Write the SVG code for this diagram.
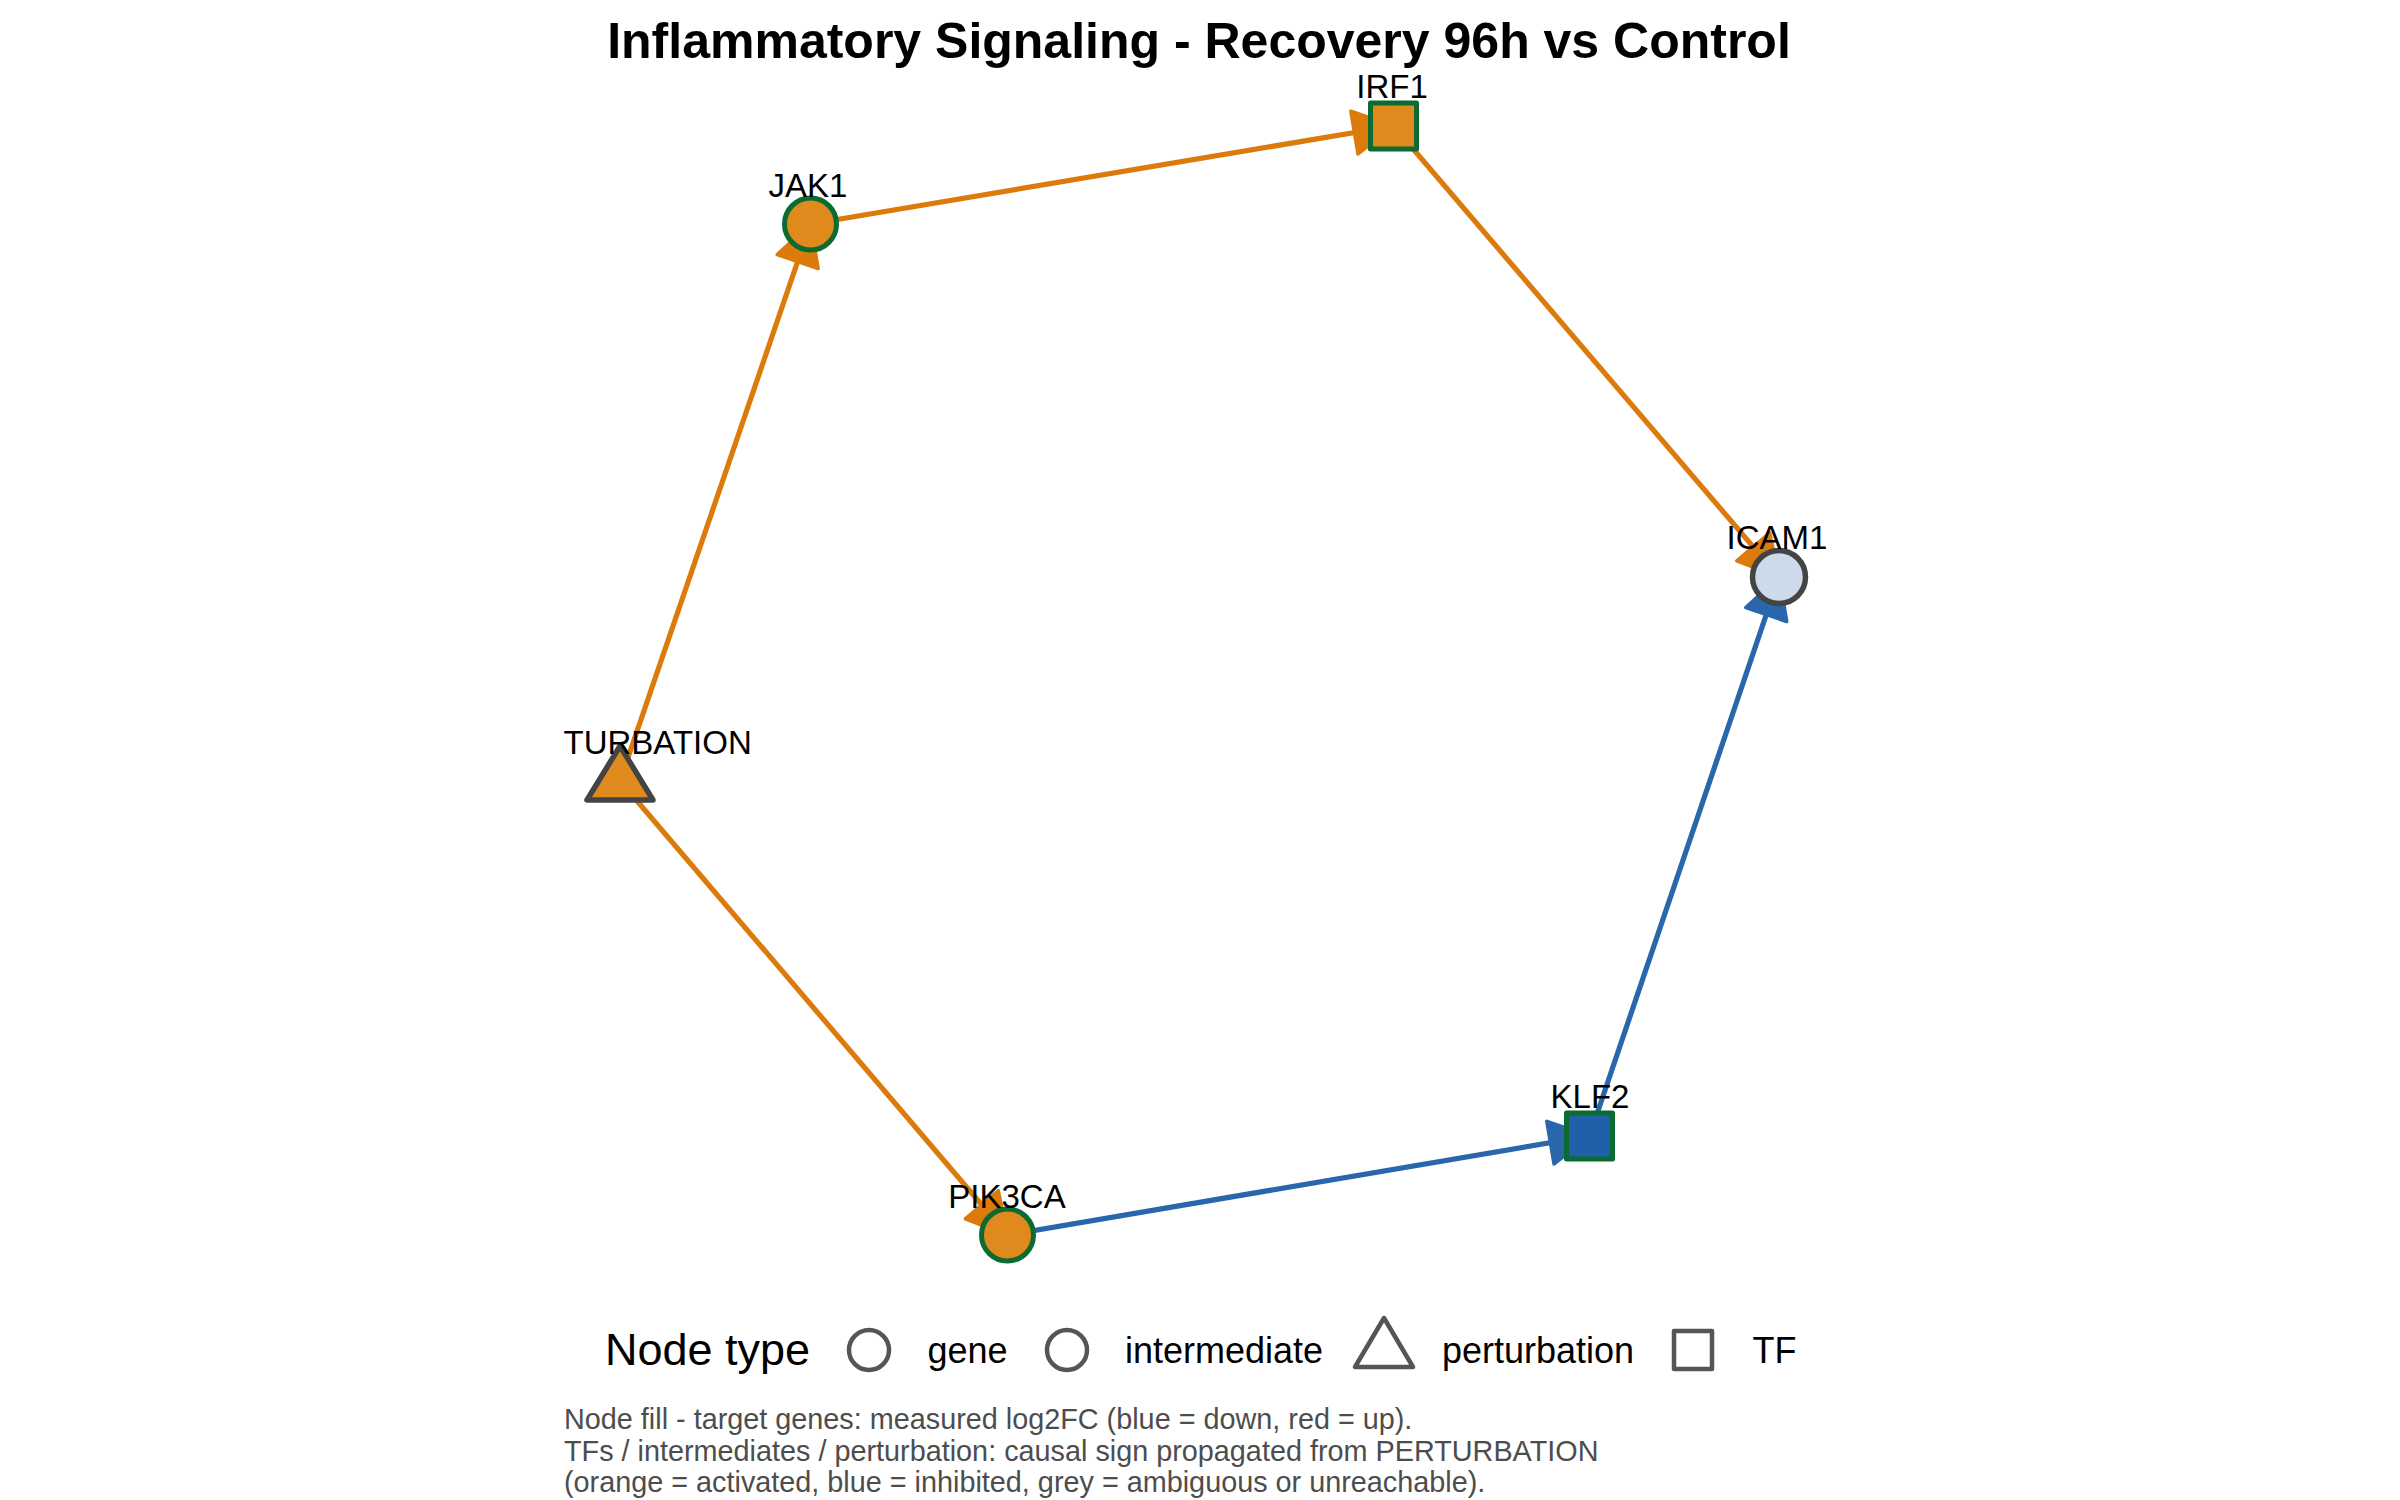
<svg xmlns="http://www.w3.org/2000/svg" width="2400" height="1500" viewBox="0 0 2400 1500">
<style>
.title{font-family:"Liberation Sans",Arial,sans-serif;font-weight:bold;font-size:50px;fill:#000;text-anchor:middle}
.lbl{font-family:"Liberation Sans",Arial,sans-serif;font-size:33px;fill:#000;text-anchor:middle}
.edge{fill:none;stroke-width:5.2}
.act{stroke:#DC7A0B}
.inh{stroke:#2A66AB}
.legt{font-family:"Liberation Sans",Arial,sans-serif;font-size:45px;fill:#000}
.legl{font-family:"Liberation Sans",Arial,sans-serif;font-size:36px;fill:#000}
.legs{fill:none;stroke:#555;stroke-width:4.5;stroke-linejoin:round}
.cap{font-family:"Liberation Sans",Arial,sans-serif;font-size:28.8px;fill:#4d4d4d}
.nodeo{fill:#E0891C;stroke:#0B6B30;stroke-width:5;stroke-linejoin:round}
</style>
<defs>
<marker id="arrA" markerUnits="userSpaceOnUse" orient="auto" refX="0" refY="0" markerWidth="60" markerHeight="60" viewBox="-40 -25 45 50" overflow="visible">
<path d="M0,0 L-33,-18 L-33,18 Z" fill="#DC7A0B" stroke="#DC7A0B" stroke-width="3" stroke-linejoin="round"/>
</marker>
<marker id="arrI" markerUnits="userSpaceOnUse" orient="auto" refX="0" refY="0" markerWidth="60" markerHeight="60" viewBox="-40 -25 45 50" overflow="visible">
<path d="M0,0 L-33,-18 L-33,18 Z" fill="#2A66AB" stroke="#2A66AB" stroke-width="3" stroke-linejoin="round"/>
</marker>
<clipPath id="panel"><rect x="563" y="60" width="1274" height="1240"/></clipPath>
</defs>
<rect width="2400" height="1500" fill="#fff"/>
<text class="title" x="1199" y="58">Inflammatory Signaling - Recovery 96h vs Control</text>
<g id="connectors">
<line class="edge act" x1="620" y1="781" x2="810.5" y2="224" marker-end="url(#arrA)"/>
<line class="edge act" x1="810.5" y1="224" x2="1393.5" y2="126" marker-end="url(#arrA)"/>
<line class="edge act" x1="1393.5" y1="126" x2="1779" y2="577" marker-end="url(#arrA)"/>
<line class="edge inh" x1="1589.5" y1="1136" x2="1779" y2="577" marker-end="url(#arrI)"/>
<line class="edge inh" x1="1007.5" y1="1235" x2="1589.5" y2="1136" marker-end="url(#arrI)"/>
<line class="edge act" x1="620" y1="781" x2="1007.5" y2="1235" marker-end="url(#arrA)"/>
</g>
<g id="node-IRF1">
<rect class="nodeo" x="1370.5" y="103" width="46" height="46"/>
<text class="lbl" x="1392" y="98">IRF1</text>
</g>
<g id="node-JAK1">
<circle class="nodeo" cx="810.5" cy="224" r="26"/>
<text class="lbl" x="808" y="197">JAK1</text>
</g>
<g id="node-ICAM1">
<circle cx="1779" cy="577" r="26.5" fill="#CCDAEC" stroke="#444" stroke-width="5.5"/>
<text class="lbl" x="1777" y="549">ICAM1</text>
</g>
<g id="node-PERTURBATION">
<polygon points="620,746 587,800 653,800" fill="#E0891C" stroke="#444" stroke-width="5.5" stroke-linejoin="round"/>
<text class="lbl" x="624" y="754" clip-path="url(#panel)">PERTURBATION</text>
</g>
<g id="node-KLF2">
<rect x="1566.5" y="1113" width="46" height="46" fill="#2060A8" stroke="#0B6B30" stroke-width="5" stroke-linejoin="round"/>
<text class="lbl" x="1590" y="1108">KLF2</text>
</g>
<g id="node-PIK3CA">
<circle class="nodeo" cx="1007.5" cy="1235" r="26"/>
<text class="lbl" x="1007" y="1208">PIK3CA</text>
</g>
<g id="legend">
<text class="legt" x="605" y="1365">Node type</text>
<circle class="legs" cx="869" cy="1350" r="20"/>
<text class="legl" x="927.5" y="1363">gene</text>
<circle class="legs" cx="1067" cy="1350" r="20"/>
<text class="legl" x="1125" y="1363">intermediate</text>
<polygon class="legs" points="1384,1318 1355,1367 1413,1367"/>
<text class="legl" x="1442" y="1363">perturbation</text>
<rect class="legs" x="1674" y="1331" width="38" height="38"/>
<text class="legl" x="1752.5" y="1363">TF</text>
</g>
<g id="caption">
<text class="cap" x="564" y="1429">Node fill - target genes: measured log2FC (blue = down, red = up).</text>
<text class="cap" x="564" y="1461">TFs / intermediates / perturbation: causal sign propagated from PERTURBATION</text>
<text class="cap" x="564" y="1492">(orange = activated, blue = inhibited, grey = ambiguous or unreachable).</text>
</g>
</svg>
